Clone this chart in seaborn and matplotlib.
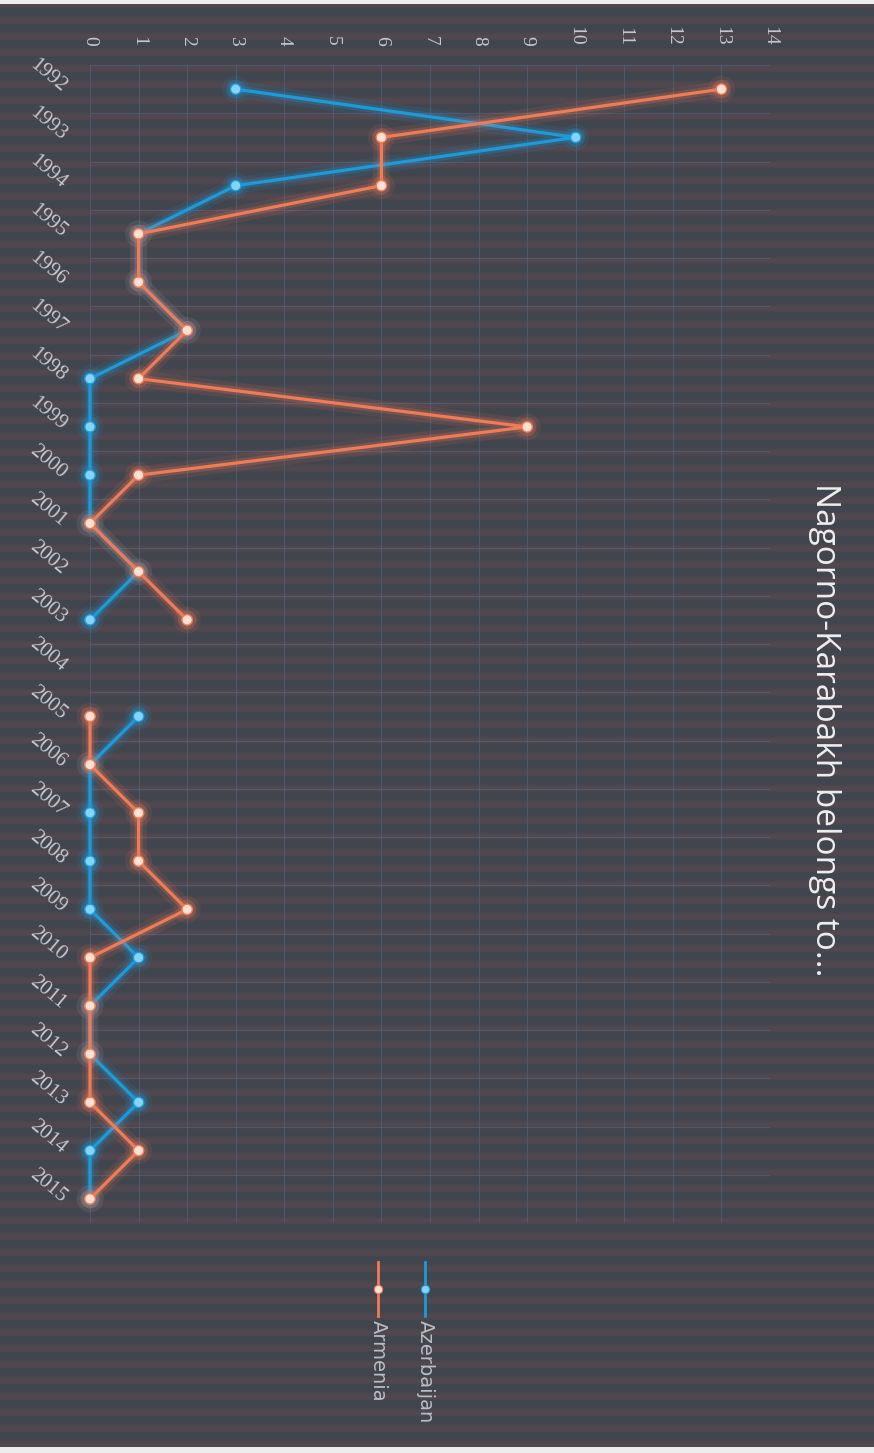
import numpy as np
import pandas as pd
import matplotlib
matplotlib.use("Agg")
import matplotlib.pyplot as plt
import matplotlib.patheffects as pe
from matplotlib.lines import Line2D
import seaborn as sns

# ---------------- data ----------------
years = list(range(1992, 2016))
azerbaijan = [3, 10, 3, 1, 1, 2, 0, 0, 0, 0, 1, 0, None, 1, 0, 0, 0, 0, 1, 0, 0, 1, 0, 0]
armenia = [13, 6, 6, 1, 1, 2, 1, 9, 1, 0, 1, 2, None, 0, 0, 1, 1, 2, 0, 0, 0, 0, 1, 0]
value_ticks = list(range(0, 15))
series_names = ["Azerbaijan", "Armenia"]
title = "Nagorno-Karabakh belongs to..."

line_colors = {"Azerbaijan": "#1c9bdb", "Armenia": "#f07b57"}
marker_fill = {"Azerbaijan": "#86d4f4", "Armenia": "#fbe1d4"}
series_values = {"Azerbaijan": azerbaijan, "Armenia": armenia}

rows = []
for name in series_names:
    for y, v in zip(years, series_values[name]):
        if v is None:
            continue
        rows.append({"year": y, "value": v, "country": name,
                     "segment": 0 if y < 2004 else 1})
df = pd.DataFrame(rows)

# ---------------- figure ----------------
W, H = 874, 1453
fig = plt.figure(figsize=(W / 100, H / 100), dpi=100)

# background (dark scanned look with faint horizontal stripes)
bg = fig.add_axes([0, 0, 1, 1], zorder=-10)
yy = np.arange(H)
base = np.array([0x41, 0x45, 0x4d]) / 255.0
stripe = np.array([0x52, 0x48, 0x50]) / 255.0
w = (0.5 + 0.5 * np.sin(2 * np.pi * yy / 16.0)) ** 2
img = base[None, :] * (1 - w[:, None]) + stripe[None, :] * w[:, None]
img = np.repeat(img[:, None, :], 4, axis=1)
img[:4, :, :] = 0.93
img[H - 6:, :, :] = 0.93
bg.imshow(img, aspect="auto", extent=[0, 1, 0, 1], interpolation="nearest")
bg.axis("off")

x0, x1 = 90, 770
y0, y1 = 65, 1223
ax = fig.add_axes([x0 / W, 1 - y1 / H, (x1 - x0) / W, (y1 - y0) / H])
ax.set_facecolor("none")
for s in ax.spines.values():
    s.set_visible(False)

for name in series_names:
    c = line_colors[name]
    sub = df[df["country"] == name]
    n_before = len(ax.lines)
    sns.lineplot(data=sub, x="value", y="year", units="segment", estimator=None,
                 orient="y", sort=True, color=c, linewidth=2.3,
                 marker="o", markersize=7.5, markerfacecolor=marker_fill[name],
                 markeredgecolor=c, markeredgewidth=1.0, legend=False, ax=ax,
                 clip_on=False)
    for ln in ax.lines[n_before:]:
        ln.set_path_effects([
            pe.Stroke(linewidth=12, foreground=c, alpha=0.10),
            pe.Stroke(linewidth=6, foreground=c, alpha=0.22),
            pe.Normal(),
        ])

ax.set_xlim(0, 14)
ax.set_ylim(2015.5, 1991.5)
ax.set_xlabel("")
ax.set_ylabel("")

# grid
ax.set_xticks(value_ticks)
ax.set_yticks([y - 0.5 for y in years] + [years[-1] + 0.5], minor=True)
ax.grid(False)
ax.grid(True, which="major", axis="x", color="#56708c", linewidth=0.8, alpha=0.45)
ax.grid(True, which="minor", axis="y", color="#56708c", linewidth=0.8, alpha=0.45)

ax.xaxis.tick_top()
ax.set_xticklabels([str(v) for v in value_ticks], rotation=270,
                   family="Liberation Serif", fontsize=14, color="#c6c8cc")
ax.tick_params(axis="x", which="both", length=0, pad=14)

ax.set_yticks(years)
ax.set_yticklabels([str(y) for y in years], rotation=-40, ha="right", va="center",
                   rotation_mode="anchor", family="Liberation Serif", fontsize=15,
                   color="#c6c8cc")
ax.tick_params(axis="y", which="both", length=0, pad=19)

# title (rotated)
fig.text(825 / W, 1 - 730 / H, title, rotation=270, ha="center", va="center",
         fontsize=24, color="#eeeeee", family="Open Sans")

# legend (rotated, drawn manually)
legend_x = {"Azerbaijan": 425, "Armenia": 378}
for name in series_names:
    c = line_colors[name]
    lx = legend_x[name] / W
    fig.add_artist(Line2D([lx, lx], [1 - 1262 / H, 1 - 1316 / H],
                          transform=fig.transFigure, color=c, linewidth=2.0))
    fig.add_artist(Line2D([lx], [1 - 1289 / H], transform=fig.transFigure,
                          marker="o", markersize=6, markerfacecolor=marker_fill[name],
                          markeredgecolor=c, markeredgewidth=0.8, linestyle="none"))
    fig.text(lx, 1 - 1320 / H, name, rotation=270, ha="center", va="top",
             fontsize=14, color="#b9bdc4", family="DejaVu Sans")

fig.savefig("out.png", dpi=100)
